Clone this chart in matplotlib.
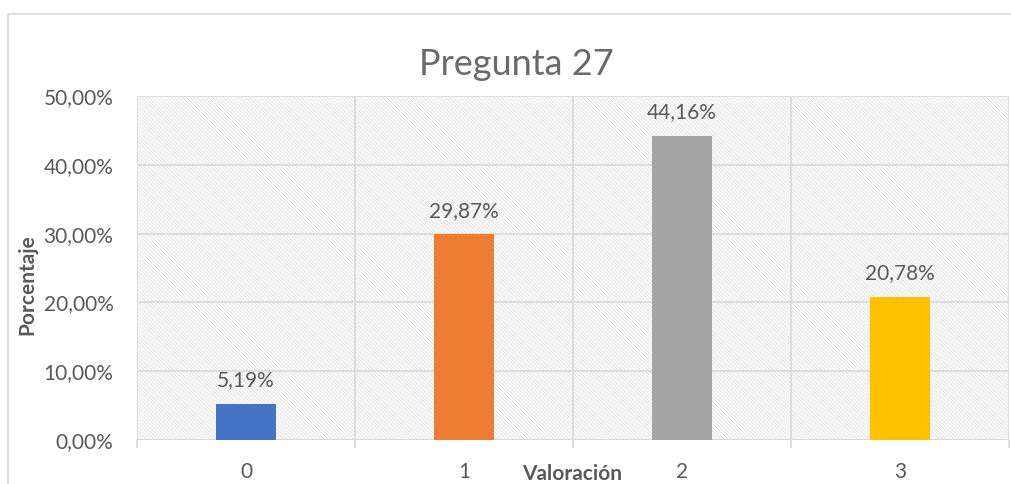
import numpy as np
import matplotlib.pyplot as plt
from matplotlib.patches import Rectangle
from matplotlib.ticker import FuncFormatter, FixedLocator

plt.rcParams['font.family'] = ['Lato', 'DejaVu Sans']
plt.rcParams['hatch.color'] = '#d9d9d9'
plt.rcParams['hatch.linewidth'] = 0.5

categories = ['0', '1', '2', '3']
values = [5.19, 29.87, 44.16, 20.78]
colors = ['#4472C4', '#ED7D31', '#A5A5A5', '#FFC000']
yticks = [0, 10, 20, 30, 40, 50]

text_col = '#595959'
grid_col = '#d9d9d9'

W, H = 1011, 484
fig = plt.figure(figsize=(W / 100, H / 100), dpi=100)
ax = fig.add_axes([137 / W, 44 / H, 872 / W, 344 / H])

# outer chart border (right and bottom run off the image)
fig.patches.append(Rectangle((8 / W, -0.01), 1.1, (H - 14) / H + 0.01,
                             transform=fig.transFigure, fill=False,
                             edgecolor=grid_col, linewidth=1.2))

x = np.arange(len(categories))
ax.set_xlim(-0.5, len(categories) - 0.5)
ax.set_ylim(0, 50)

# hatched plot background
ax.add_patch(Rectangle((-0.5, 0), len(categories), 50, facecolor='white',
                       edgecolor=grid_col, hatch='\\' * 9, linewidth=0, zorder=0))

ax.bar(x, values, width=0.275, color=colors, zorder=3)
for xi, v in zip(x, values):
    ax.text(xi, v + 2.6, f'{v:.2f}%'.replace('.', ','), ha='center', va='baseline',
            fontsize=15, color=text_col, zorder=4)

ax.yaxis.set_major_locator(FixedLocator(yticks))
ax.yaxis.set_major_formatter(FuncFormatter(lambda v, p: f'{v:.2f}%'.replace('.', ',')))
ax.set_xticks(x)
ax.set_xticklabels(categories)
ax.tick_params(axis='y', length=0, labelsize=15, labelcolor=text_col, pad=17)
ax.tick_params(axis='x', length=0, labelsize=15, labelcolor=text_col, pad=16)

ax.grid(axis='y', color=grid_col, linewidth=1.2, zorder=1)
for b in np.arange(-0.5, len(categories), 1.0):
    ax.axvline(b, color=grid_col, linewidth=1.2, zorder=1)
    ax.plot([b, b], [0, -1.0], color=grid_col, linewidth=1.2, clip_on=False)

for s in ax.spines.values():
    s.set_visible(False)
ax.axhline(0, color=grid_col, linewidth=1.5, zorder=2)

ax.set_ylabel('Porcentaje', fontsize=15, fontweight='bold', color=text_col)
ax.yaxis.set_label_coords(-(137 - 37) / 872, (440 - 285) / 344)
ax.text(0.499, -40 / 344, 'Valoración', transform=ax.transAxes, ha='center', va='baseline',
        fontsize=15, fontweight='bold', color=text_col)

fig.text(516 / W, 1 - 75 / H, 'Pregunta 27', ha='center', va='baseline',
         fontsize=26, color='#6a6a6a')

fig.savefig('out.png', dpi=100)
